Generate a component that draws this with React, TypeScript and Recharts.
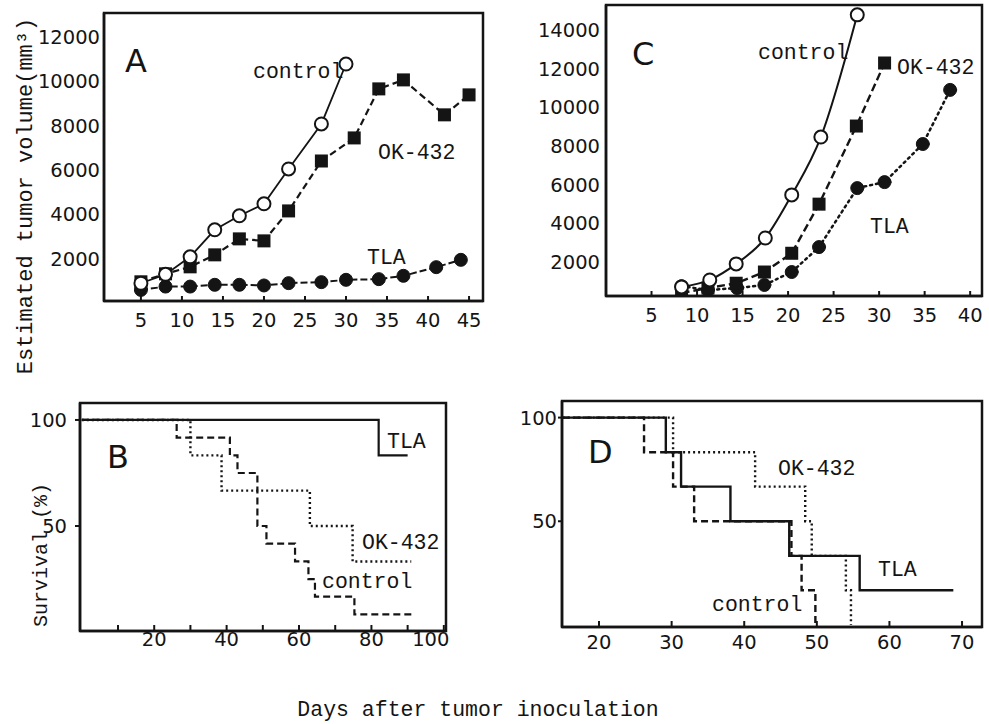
import React from 'react';
import { LineChart, Line, XAxis, YAxis, ReferenceArea } from 'recharts';

// ---------- Panel A: tumor volume (mm3) vs days ----------
const aXTicks = [5, 10, 15, 20, 25, 30, 35, 40, 45];
const aYTicks = [2000, 4000, 6000, 8000, 10000, 12000];
const aControlDays = [5, 8, 11, 14, 17, 20, 23, 27, 30];
const aControlVol = [900, 1300, 2090, 3310, 3940, 4480, 6050, 8080, 10780];
const aOkDays = [5, 8, 11, 14, 17, 20, 23, 27, 31, 34, 37, 42, 45];
const aOkVol = [965, 1325, 1640, 2180, 2900, 2810, 4160, 6410, 7450, 9660, 10065, 8490, 9390];
const aTlaDays = [5, 8, 11, 14, 17, 20, 23, 27, 30, 34, 37, 41, 44];
const aTlaVol = [600, 750, 750, 830, 830, 800, 905, 950, 1055, 1085, 1235, 1625, 1955];

// ---------- Panel C: tumor volume (mm3) vs days ----------
const cXTicks = [5, 10, 15, 20, 25, 30, 35, 40];
const cYTicks = [2000, 4000, 6000, 8000, 10000, 12000, 14000];
const cControlDays = [8.3, 11.4, 14.3, 17.5, 20.4, 23.6, 27.6];
const cControlVol = [710, 1070, 1900, 3240, 5470, 8460, 14780];
const cOkDays = [8.3, 11.2, 14.3, 17.4, 20.4, 23.4, 27.5, 30.6];
const cOkVol = [400, 650, 900, 1480, 2450, 4990, 9030, 12290];
const cTlaDays = [8.3, 11.2, 14.4, 17.4, 20.4, 23.4, 27.6, 30.6, 34.8, 37.8];
const cTlaVol = [750, 550, 650, 810, 1480, 2770, 5820, 6130, 8100, 10900];

// ---------- Panel B: survival (%) vs days ----------
const bXTicks = [10, 20, 30, 40, 50, 60, 70, 80, 90, 100];
const bYTicks = [50, 100];
const bTlaDays = [0, 82, 90];
const bTlaSurv = [100, 83.3, 83.3];
const bOkDays = [0, 30, 38.6, 63, 74.8, 91];
const bOkSurv = [100, 83.3, 66.7, 50, 33.3, 33.3];
const bControlDays = [0, 26.2, 40.9, 43, 48.5, 51, 58.9, 62.6, 64.4, 75.3, 92];
const bControlSurv = [100, 91.7, 83.3, 75, 50, 41.7, 33.3, 25, 16.7, 8.3, 8.3];

// ---------- Panel D: survival (%) vs days ----------
const dXTicks = [20, 30, 40, 50, 60, 70];
const dYTicks = [50, 100];
const dTlaDays = [15, 29.2, 31.3, 38.1, 46.2, 55.9, 68.8];
const dTlaSurv = [100, 83.3, 66.7, 50, 33.3, 16.7, 16.7];
const dOkDays = [15, 30.2, 41.5, 48.4, 49.3, 54.0, 54.7];
const dOkSurv = [100, 83.3, 66.7, 50, 33.3, 16.7, 0];
const dControlDays = [15, 26.2, 30.2, 33.1, 46.5, 47.9, 49.8];
const dControlSurv = [100, 83.3, 66.7, 50, 33.3, 16.7, 0];

const INK = '#141414';
const MONO = '"Liberation Mono", "DejaVu Sans Mono", monospace';
const SANS = '"DejaVu Sans", "Liberation Sans", sans-serif';

const zip = (xs: number[], ys: number[]) => xs.map((d, i) => ({ d, v: ys[i] }));

type Frame = { L: number; T: number; R: number; B: number };
const YW = 70;
const XH = 50;
const PAD = 12;

function Panel({ frame, children }: { frame: Frame; children: React.ReactNode }) {
  const width = frame.R - frame.L + YW + PAD;
  const height = frame.B - frame.T + PAD + XH;
  return (
    <div style={{ position: 'absolute', left: frame.L - YW, top: frame.T - PAD }}>
      <LineChart width={width} height={height} margin={{ top: PAD, right: PAD, left: 0, bottom: 0 }}>
        {children}
      </LineChart>
    </div>
  );
}

const tickFont = { fill: INK, fontSize: 19.5, fontFamily: SANS };
const axisLine = { stroke: INK, strokeWidth: 2.5 };
const tickLine = { stroke: INK, strokeWidth: 2 };

const Square = (props: any) => {
  const { cx, cy, index } = props;
  if (cx == null || cy == null) return <g key={`s${index}`} />;
  return <rect key={`s${index}`} x={cx - 6.5} y={cy - 6.5} width={13} height={13} fill={INK} />;
};

const openDot = { r: 6.5, fill: '#fff', stroke: INK, strokeWidth: 2, strokeDasharray: '0' };
const fillDot = { r: 6.5, fill: INK, stroke: INK, strokeWidth: 1, strokeDasharray: '0' };

const bTick = (props: any) => {
  const { x, y, payload, index } = props;
  const v = payload.value;
  if (v % 20 !== 0) return <g key={`bt${index}`} />;
  const dx = v === 100 ? -13 : 0;
  return (
    <text key={`bt${index}`} x={x + dx} y={y} dy="0.71em" textAnchor="middle" fill={INK} fontSize={19.5} fontFamily={SANS}>
      {v}
    </text>
  );
};

function Box({ x, y }: { x: number[]; y: number[] }) {
  return (
    <ReferenceArea x1={x[0]} x2={x[1]} y1={y[0]} y2={y[1]} fill="none" stroke={INK} strokeWidth={2.5} ifOverflow="visible" />
  );
}

const aFrame = { L: 104, T: 13, R: 483, B: 301 };
const cFrame = { L: 606, T: 5, R: 982, B: 296 };
const bFrame = { L: 80, T: 403, R: 446, B: 631 };
const dFrame = { L: 562, T: 401, R: 982, B: 627 };

const aX = [0.5, 46.7];
const aY = [100, 13080];
const cX = [0, 41.3];
const cY = [240, 15290];
const bX = [-0.5, 100.6];
const bY = [0.5, 108];
const dX = [14.9, 72.75];
const dY = [-1, 108];

const texts: { t: string; x: number; y: number; big?: boolean }[] = [
  { t: 'A', x: 125, y: 61, big: true },
  { t: 'C', x: 632, y: 54, big: true },
  { t: 'B', x: 107, y: 457, big: true },
  { t: 'D', x: 588, y: 452, big: true },
  { t: 'control', x: 253, y: 72 },
  { t: 'OK-432', x: 378, y: 153 },
  { t: 'TLA', x: 367, y: 258 },
  { t: 'control', x: 758, y: 53 },
  { t: 'OK-432', x: 897, y: 68 },
  { t: 'TLA', x: 870, y: 227 },
  { t: 'TLA', x: 387, y: 442 },
  { t: 'OK-432', x: 362, y: 543 },
  { t: 'control', x: 322, y: 582 },
  { t: 'OK-432', x: 778, y: 469 },
  { t: 'TLA', x: 878, y: 570 },
  { t: 'control', x: 712, y: 605 },
];

export default function App() {
  return (
    <div style={{ position: 'absolute', left: 0, top: 0, width: 989, height: 724, background: '#fff', overflow: 'hidden' }}>
      {/* Panel A */}
      <Panel frame={aFrame}>
        <XAxis dataKey="d" type="number" domain={aX} allowDataOverflow ticks={aXTicks} interval={0}
          tickSize={-5} tickMargin={17} axisLine={axisLine} tickLine={tickLine} tick={tickFont} height={XH} />
        <YAxis type="number" domain={aY} allowDataOverflow ticks={aYTicks} interval={0} width={YW}
          tickSize={2} tickMargin={2} axisLine={axisLine} tickLine={false} tick={tickFont} />
        <Box x={aX} y={aY} />
        <Line data={zip(aTlaDays, aTlaVol)} dataKey="v" stroke={INK} strokeWidth={2} strokeDasharray="7 3"
          dot={fillDot} activeDot={false} isAnimationActive={false} />
        <Line data={zip(aOkDays, aOkVol)} dataKey="v" stroke={INK} strokeWidth={2.2} strokeDasharray="7 4"
          dot={Square} activeDot={false} isAnimationActive={false} />
        <Line data={zip(aControlDays, aControlVol)} dataKey="v" stroke={INK} strokeWidth={1.8}
          dot={openDot} activeDot={false} isAnimationActive={false} />
      </Panel>

      {/* Panel C */}
      <Panel frame={cFrame}>
        <XAxis dataKey="d" type="number" domain={cX} allowDataOverflow ticks={cXTicks} interval={0}
          tickSize={-5} tickMargin={17} axisLine={axisLine} tickLine={tickLine} tick={tickFont} height={XH} />
        <YAxis type="number" domain={cY} allowDataOverflow ticks={cYTicks} interval={0} width={YW}
          tickSize={2} tickMargin={4} axisLine={axisLine} tickLine={false} tick={tickFont} />
        <Box x={cX} y={cY} />
        <Line data={zip(cTlaDays, cTlaVol)} dataKey="v" stroke={INK} strokeWidth={2.5} strokeDasharray="2 4"
          strokeLinecap="round" dot={fillDot} activeDot={false} isAnimationActive={false} />
        <Line data={zip(cOkDays, cOkVol)} dataKey="v" stroke={INK} strokeWidth={2.4} strokeDasharray="8 4"
          dot={Square} activeDot={false} isAnimationActive={false} />
        <Line type="monotone" data={zip(cControlDays, cControlVol)} dataKey="v" stroke={INK} strokeWidth={2}
          dot={openDot} activeDot={false} isAnimationActive={false} />
      </Panel>

      {/* Panel B */}
      <Panel frame={bFrame}>
        <XAxis dataKey="d" type="number" domain={bX} allowDataOverflow ticks={bXTicks} interval={0}
          tickSize={-6} tickMargin={7} axisLine={axisLine} tickLine={tickLine} tick={bTick} height={XH} />
        <YAxis type="number" domain={bY} allowDataOverflow ticks={bYTicks} interval={0} width={YW}
          tickSize={5} tickMargin={8} axisLine={axisLine} tickLine={tickLine} tick={tickFont} />
        <Box x={bX} y={bY} />
        <Line type="stepAfter" data={zip(bControlDays, bControlSurv)} dataKey="v" stroke={INK} strokeWidth={2.2}
          strokeDasharray="7 4" dot={false} activeDot={false} isAnimationActive={false} />
        <Line type="stepAfter" data={zip(bOkDays, bOkSurv)} dataKey="v" stroke={INK} strokeWidth={2.4}
          strokeDasharray="2 3" dot={false} activeDot={false} isAnimationActive={false} />
        <Line type="stepAfter" data={zip(bTlaDays, bTlaSurv)} dataKey="v" stroke={INK} strokeWidth={2.2}
          dot={false} activeDot={false} isAnimationActive={false} />
      </Panel>

      {/* Panel D */}
      <Panel frame={dFrame}>
        <XAxis dataKey="d" type="number" domain={dX} allowDataOverflow ticks={dXTicks} interval={0}
          tickSize={-6} tickMargin={14} axisLine={axisLine} tickLine={tickLine} tick={tickFont} height={XH} />
        <YAxis type="number" domain={dY} allowDataOverflow ticks={dYTicks} interval={0} width={YW}
          tickSize={4} tickMargin={1} axisLine={axisLine} tickLine={tickLine} tick={tickFont} />
        <Box x={dX} y={dY} />
        <Line type="stepAfter" data={zip(dControlDays, dControlSurv)} dataKey="v" stroke={INK} strokeWidth={2.4}
          strokeDasharray="7 4" dot={false} activeDot={false} isAnimationActive={false} />
        <Line type="stepAfter" data={zip(dOkDays, dOkSurv)} dataKey="v" stroke={INK} strokeWidth={2.4}
          strokeDasharray="2 3" dot={false} activeDot={false} isAnimationActive={false} />
        <Line type="stepAfter" data={zip(dTlaDays, dTlaSurv)} dataKey="v" stroke={INK} strokeWidth={2.4}
          dot={false} activeDot={false} isAnimationActive={false} />
      </Panel>

      {/* Annotation text */}
      <svg width={989} height={724} style={{ position: 'absolute', left: 0, top: 0, pointerEvents: 'none' }}>
        {texts.map((s, i) => (
          <text key={i} x={s.x} y={s.y} dominantBaseline="central" fill={INK}
            fontFamily={s.big ? SANS : MONO} fontSize={s.big ? 32 : 21.5}>
            {s.t}
          </text>
        ))}
        <text x={32} y={196} transform="rotate(-90 32 196)" textAnchor="middle" fill={INK} fontFamily={MONO} fontSize={22}>
          Estimated tumor volume(mm³)
        </text>
        <text x={47} y={555} transform="rotate(-90 47 555)" textAnchor="middle" fill={INK} fontFamily={MONO} fontSize={20}>
          Survival (%)
        </text>
        <text x={478} y={716} textAnchor="middle" fill={INK} fontFamily={MONO} fontSize={21.5}>
          Days after tumor inoculation
        </text>
      </svg>
    </div>
  );
}
